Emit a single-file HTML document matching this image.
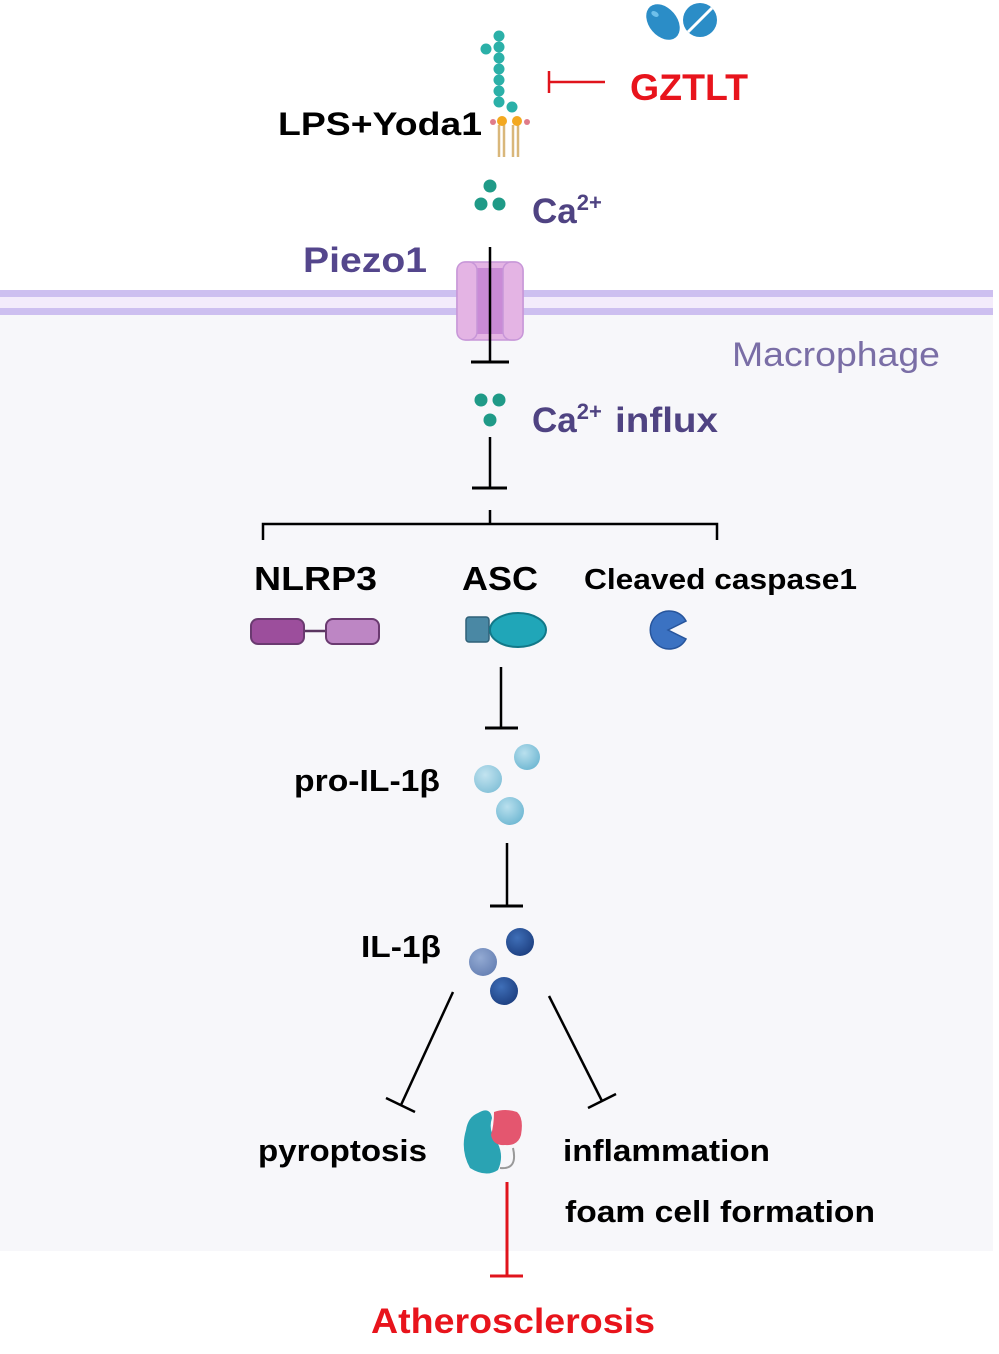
<!DOCTYPE html>
<html><head><meta charset="utf-8"><style>
html,body{margin:0;padding:0;background:#fff;}
svg{display:block;}
text{font-family:"Liberation Sans",sans-serif;font-weight:bold;}
</style></head><body>
<svg width="999" height="1354" viewBox="0 0 999 1354" xmlns="http://www.w3.org/2000/svg">
<defs>
<radialGradient id="lb" cx="0.4" cy="0.35" r="0.7"><stop offset="0" stop-color="#b9e0ee"/><stop offset="1" stop-color="#6fb7d2"/></radialGradient>
<radialGradient id="db" cx="0.4" cy="0.35" r="0.7"><stop offset="0" stop-color="#3f6fb8"/><stop offset="1" stop-color="#1d3f80"/></radialGradient>
<radialGradient id="mb" cx="0.4" cy="0.35" r="0.7"><stop offset="0" stop-color="#93aad3"/><stop offset="1" stop-color="#6680b3"/></radialGradient>
</defs>
<rect x="0" y="0" width="999" height="1354" fill="#fff"/>
<rect x="0" y="313" width="993" height="938" fill="#f7f7fa"/>
<rect x="0" y="297" width="993" height="12" fill="#f3ebfb"/>
<rect x="0" y="290" width="993" height="7" fill="#cdbff0"/>
<rect x="0" y="308" width="993" height="7" fill="#cdbff0"/>

<!-- LPS -->
<g fill="#2bb0a8">
<circle cx="499" cy="36" r="5.5"/><circle cx="499" cy="47" r="5.5"/><circle cx="486" cy="49" r="5.5"/>
<circle cx="499" cy="58" r="5.5"/><circle cx="499" cy="69" r="5.5"/><circle cx="499" cy="80" r="5.5"/>
<circle cx="499" cy="91" r="5.5"/><circle cx="499" cy="102" r="5.5"/><circle cx="512" cy="107" r="5.5"/>
</g>
<g stroke="#d9b77a" stroke-width="2.5"><line x1="499" y1="125" x2="499" y2="157"/><line x1="504" y1="125" x2="504" y2="157"/><line x1="513" y1="125" x2="513" y2="157"/><line x1="518" y1="125" x2="518" y2="157"/></g>
<circle cx="493" cy="122" r="3" fill="#e07c8a"/><circle cx="527" cy="122" r="3" fill="#e07c8a"/>
<circle cx="502" cy="121" r="5" fill="#f3a820"/><circle cx="517" cy="121" r="5" fill="#f3a820"/>
<text x="278" y="135" font-size="32" fill="#000" textLength="204" lengthAdjust="spacingAndGlyphs">LPS+Yoda1</text>

<!-- pills -->
<ellipse cx="663" cy="22" rx="14" ry="20" transform="rotate(-40 663 22)" fill="#2b8dc7"/>
<circle cx="700" cy="20" r="17" fill="#2b8dc7"/>
<line x1="688" y1="32" x2="712" y2="8" stroke="#fff" stroke-width="3"/>
<ellipse cx="655" cy="14" rx="4" ry="2.5" transform="rotate(30 655 14)" fill="#6fc0ea"/>

<line x1="549" y1="82" x2="605" y2="82" stroke="#e0141c" stroke-width="2.5"/>
<line x1="549" y1="71" x2="549" y2="93" stroke="#e0141c" stroke-width="2.5"/>
<text x="630" y="100" font-size="37" fill="#e8141c" textLength="118" lengthAdjust="spacingAndGlyphs">GZTLT</text>

<g fill="#1f9a87"><circle cx="490" cy="186" r="6.5"/><circle cx="481" cy="204" r="6.5"/><circle cx="499" cy="204" r="6.5"/></g>
<text x="532" y="223" font-size="35" fill="#4f4382">Ca<tspan font-size="22" dy="-13">2+</tspan></text>
<text x="303" y="272" font-size="35" fill="#54468c" textLength="124" lengthAdjust="spacingAndGlyphs">Piezo1</text>

<rect x="457" y="262" width="66" height="78" rx="9" fill="#e4b4e4" stroke="#c796d8" stroke-width="1.5"/>
<rect x="475" y="268" width="30" height="66" fill="#c98bd6"/>
<rect x="457" y="262" width="20" height="78" rx="8" fill="#e4b4e4" stroke="#c796d8" stroke-width="1.5"/>
<rect x="503" y="262" width="20" height="78" rx="8" fill="#e4b4e4" stroke="#c796d8" stroke-width="1.5"/>
<line x1="490" y1="247" x2="490" y2="362" stroke="#000" stroke-width="2.5"/>
<line x1="471" y1="362" x2="509" y2="362" stroke="#000" stroke-width="3"/>
<text x="732" y="366" font-size="34" fill="#7a6ea6" style="font-weight:normal" textLength="208" lengthAdjust="spacingAndGlyphs">Macrophage</text>

<g fill="#1f9a87"><circle cx="481" cy="400" r="6.5"/><circle cx="499" cy="400" r="6.5"/><circle cx="490" cy="420" r="6.5"/></g>
<text x="532" y="432" font-size="35" fill="#4f4382">Ca<tspan font-size="22" dy="-13">2+</tspan></text>
<text x="615" y="432" font-size="35" fill="#4f4382" textLength="103" lengthAdjust="spacingAndGlyphs">influx</text>
<line x1="490" y1="437" x2="490" y2="488" stroke="#000" stroke-width="2.5"/>
<line x1="472" y1="488" x2="507" y2="488" stroke="#000" stroke-width="3"/>

<path d="M490 510 V524 M263 540 V524 H717 V540" fill="none" stroke="#000" stroke-width="2.5"/>
<text x="254" y="590" font-size="33" fill="#000" textLength="123" lengthAdjust="spacingAndGlyphs">NLRP3</text>
<text x="462" y="590" font-size="33" fill="#000" textLength="76" lengthAdjust="spacingAndGlyphs">ASC</text>
<text x="584" y="589" font-size="29" fill="#000" textLength="273" lengthAdjust="spacingAndGlyphs">Cleaved caspase1</text>

<line x1="303" y1="631" x2="327" y2="631" stroke="#5a3560" stroke-width="2.5"/>
<rect x="251" y="619" width="53" height="25" rx="7" fill="#9c4e9c" stroke="#6a3a70" stroke-width="2"/>
<rect x="326" y="619" width="53" height="25" rx="7" fill="#bd86c4" stroke="#6a3a70" stroke-width="2"/>
<line x1="488" y1="630" x2="496" y2="630" stroke="#284a5a" stroke-width="2.5"/>
<rect x="466" y="617" width="23" height="25" rx="3" fill="#4a88a4" stroke="#2f6178" stroke-width="1.5"/>
<ellipse cx="518" cy="630" rx="28" ry="17" fill="#20a6b8" stroke="#127888" stroke-width="2"/>
<path d="M668 630 L686 621 A19 19 0 1 0 686 639 Z" fill="#3b72c2" stroke="#27559c" stroke-width="1.5"/>

<line x1="501" y1="667" x2="501" y2="728" stroke="#000" stroke-width="2.5"/>
<line x1="485" y1="728" x2="518" y2="728" stroke="#000" stroke-width="3"/>

<text x="294" y="791" font-size="31" fill="#000" textLength="146" lengthAdjust="spacingAndGlyphs">pro-IL-1β</text>
<circle cx="527" cy="757" r="13" fill="url(#lb)"/>
<circle cx="488" cy="779" r="14" fill="url(#lb)" opacity="0.85"/>
<circle cx="510" cy="811" r="14" fill="url(#lb)"/>

<line x1="507" y1="843" x2="507" y2="906" stroke="#000" stroke-width="2.5"/>
<line x1="490" y1="906" x2="523" y2="906" stroke="#000" stroke-width="3"/>

<text x="361" y="957" font-size="31" fill="#000" textLength="80" lengthAdjust="spacingAndGlyphs">IL-1β</text>
<circle cx="520" cy="942" r="14" fill="url(#db)"/>
<circle cx="483" cy="962" r="14" fill="url(#mb)"/>
<circle cx="504" cy="991" r="14" fill="url(#db)"/>

<line x1="453" y1="992" x2="401" y2="1105" stroke="#000" stroke-width="2.5"/>
<line x1="386" y1="1098" x2="415" y2="1112" stroke="#000" stroke-width="2.5"/>
<line x1="549" y1="996" x2="602" y2="1101" stroke="#000" stroke-width="2.5"/>
<line x1="588" y1="1108" x2="616" y2="1094" stroke="#000" stroke-width="2.5"/>

<text x="258" y="1161" font-size="31" fill="#000" textLength="169" lengthAdjust="spacingAndGlyphs">pyroptosis</text>
<text x="563" y="1161" font-size="31" fill="#000" textLength="207" lengthAdjust="spacingAndGlyphs">inflammation</text>
<text x="565" y="1222" font-size="31" fill="#000" textLength="310" lengthAdjust="spacingAndGlyphs">foam cell formation</text>

<path d="M513 1148 Q518 1170 500 1168" fill="none" stroke="#999" stroke-width="2"/>
<path d="M478 1113 Q490 1106 492 1118 Q488 1130 496 1140 Q505 1155 498 1170 Q486 1178 470 1168 Q460 1150 466 1130 Q468 1117 478 1113Z" fill="#2aa3b3"/>
<path d="M494 1112 Q505 1108 517 1112 Q524 1118 521 1135 Q518 1146 505 1145 Q493 1146 491 1135 Q494 1125 494 1112Z" fill="#e4566f"/>

<line x1="507" y1="1182" x2="507" y2="1276" stroke="#e0141c" stroke-width="3"/>
<line x1="490" y1="1276" x2="523" y2="1276" stroke="#e0141c" stroke-width="3"/>
<text x="371" y="1333" font-size="35" fill="#e8141c" textLength="284" lengthAdjust="spacingAndGlyphs">Atherosclerosis</text>
</svg>
</body></html>
